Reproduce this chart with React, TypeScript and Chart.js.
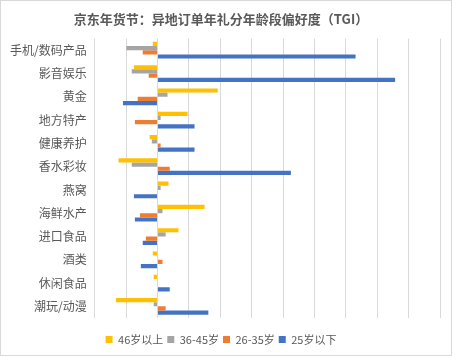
import React, { useEffect, useRef } from "react";
import { Chart, registerables } from "chart.js";

Chart.register(...registerables);

const categories = [
  "手机/数码产品",
  "影音娱乐",
  "黄金",
  "地方特产",
  "健康养护",
  "香水彩妆",
  "燕窝",
  "海鲜水产",
  "进口食品",
  "酒类",
  "休闲食品",
  "潮玩/动漫",
];

const seriesNames = ["46岁以上", "36-45岁", "26-35岁", "25岁以下"];

const over46 = [-0.15, -0.75, 1.92, 0.96, -0.25, -1.24, 0.35, 1.5, 0.67, -0.15, -0.12, -1.32];
const age36to45 = [-0.99, -0.82, 0.32, 0.1, -0.18, -0.82, 0.1, 0.16, 0.26, 0.02, 0, -0.12];
const age26to35 = [-0.47, -0.28, -0.63, -0.72, 0.1, 0.39, 0, -0.56, -0.37, 0.16, 0, 0.26];
const under25 = [6.31, 7.57, -1.1, 1.18, 1.18, 4.25, -0.75, -0.72, -0.47, -0.53, 0.39, 1.62];

const colors = ["#FFC000", "#A5A5A5", "#ED7D31", "#4472C4"];

const FONT = "'Noto Sans CJK SC', 'Noto Sans', sans-serif";

export default function App() {
  const ref = useRef<HTMLCanvasElement>(null);

  useEffect(() => {
    document.body.style.margin = "0";
    const ctx = ref.current!;
    const seriesData = [over46, age36to45, age26to35, under25];
    const chart = new Chart(ctx, {
      type: "bar",
      data: {
        labels: categories,
        datasets: seriesNames.map((name, i) => ({
          label: name,
          data: seriesData[i],
          backgroundColor: colors[i],
          borderWidth: 0,
          categoryPercentage: 0.72,
          barPercentage: 1,
        })),
      },
      options: {
        indexAxis: "y",
        animation: false,
        responsive: false,
        maintainAspectRatio: false,
        layout: { padding: { left: 1, right: 11, top: 4, bottom: 0 } },
        plugins: {
          title: {
            display: true,
            text: "京东年货节：异地订单年礼分年龄段偏好度（TGI）",
            color: "#595959",
            font: { family: FONT, size: 13, weight: "bold" },
            padding: { top: 6, bottom: 12 },
          },
          legend: {
            position: "bottom",
            labels: {
              color: "#595959",
              font: { family: FONT, size: 11 },
              boxWidth: 7,
              boxHeight: 7,
              padding: 4,
            },
          },
          tooltip: { enabled: false },
        },
        scales: {
          x: {
            min: -2,
            max: 9,
            ticks: { display: false, stepSize: 1 },
            grid: { color: "#D9D9D9", drawTicks: false },
            border: { display: false },
            afterFit: (scale: any) => {
              scale.height += 12;
            },
          },
          y: {
            ticks: {
              color: "#595959",
              font: { family: FONT, size: 12 },
              padding: 8,
              autoSkip: false,
            },
            grid: { display: false, drawTicks: false },
            border: { display: false },
          },
        },
      },
    });
    return () => chart.destroy();
  }, []);

  return (
    <div
      style={{
        position: "fixed",
        left: 0,
        top: 0,
        width: 452,
        height: 356,
        boxSizing: "border-box",
        border: "1px solid #D9D9D9",
        background: "#fff",
      }}
    >
      <canvas ref={ref} width={450} height={354} style={{ display: "block" }} />
    </div>
  );
}
